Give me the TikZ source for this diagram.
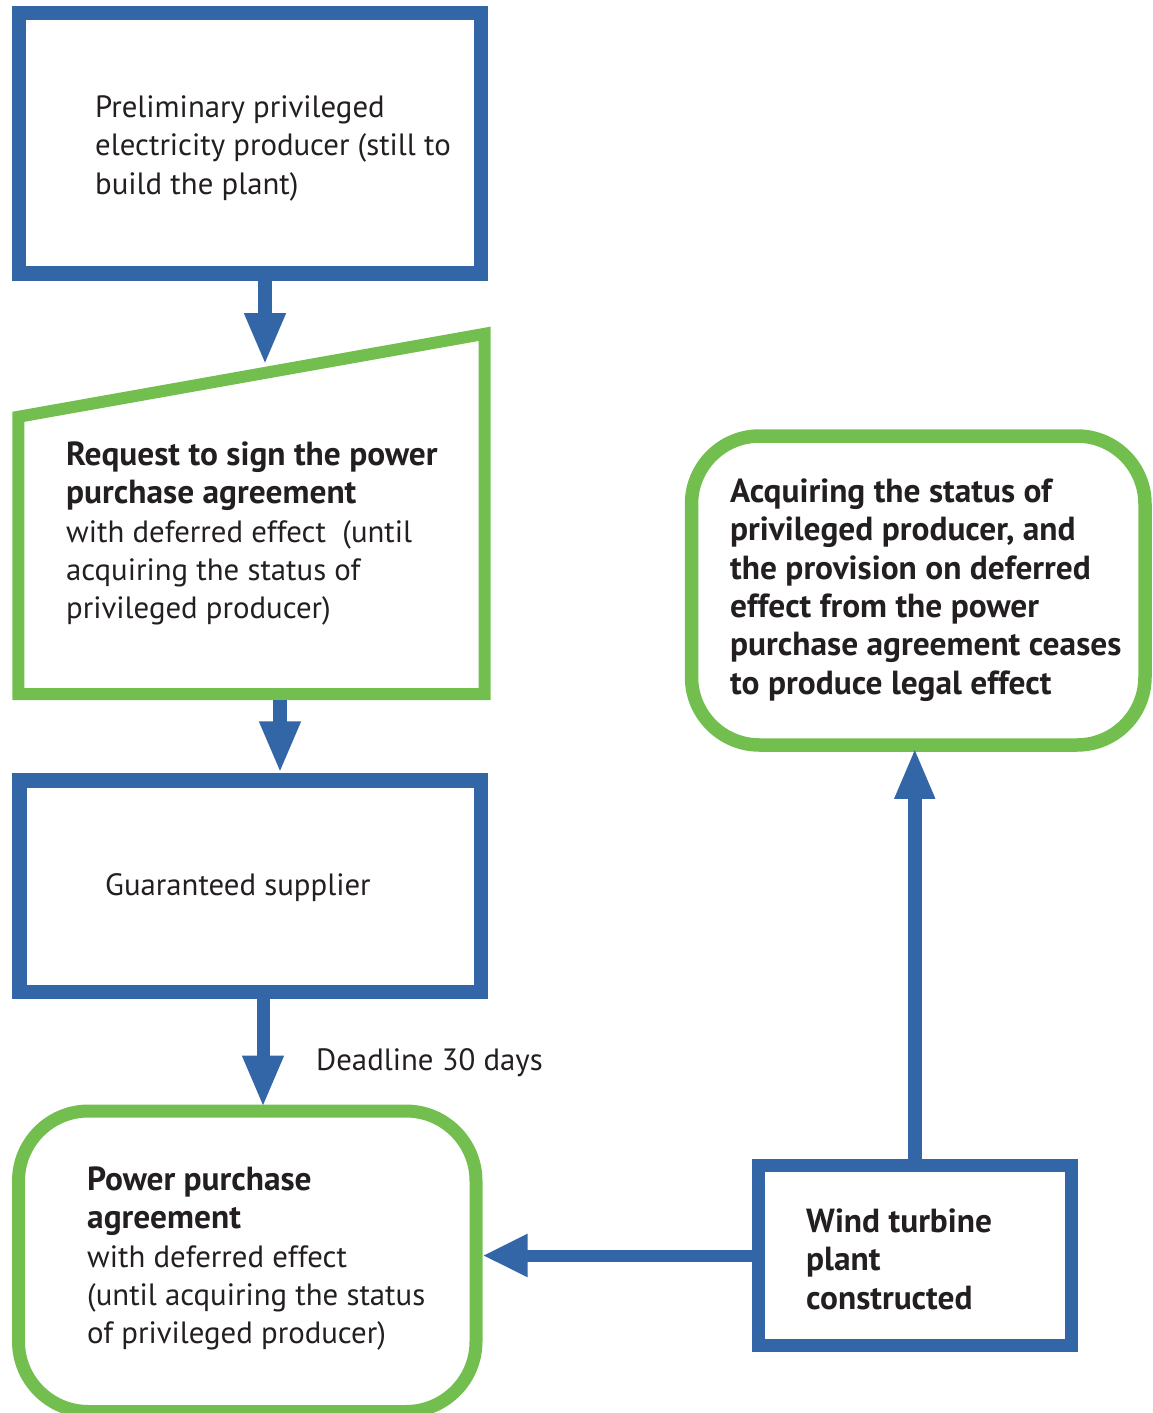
\documentclass[tikz,border=0pt]{standalone}
\usepackage{fontspec}
\setmainfont{PT Sans}
\usetikzlibrary{arrows.meta}
\definecolor{bblue}{HTML}{3366A6}
\definecolor{bgreen}{HTML}{72BF4F}
\definecolor{ink}{HTML}{231F20}
\newcommand\rgtxt{\fontsize{30.8}{38.4}\selectfont}
\newcommand\bdtxt{\fontsize{33.4}{38.4}\selectfont\bfseries}
\begin{document}
\begin{tikzpicture}[x=1pt,y=-1pt,
  bluebox/.style={draw=bblue, line width=14.5pt, rectangle, inner sep=0pt, fill=white},
  greenround/.style={draw=bgreen, line width=13pt, rectangle, rounded corners=70pt, inner sep=0pt, fill=white},
  txt/.style={anchor=north west, inner sep=0pt, align=left, text=ink, font=\rgtxt},
  btxt/.style={txt, font=\bdtxt},
  flow/.style={draw=bblue, line width=14pt, -{Triangle[length=52pt,width=38pt]}},
  flowh/.style={draw=bblue, line width=12pt, -{Triangle[length=45pt,width=40pt]}}
]
\useasboundingbox (0,0) rectangle (1152,1413);

% boxes
\node[bluebox, minimum width=462pt, minimum height=260.5pt] (b1) at (250,143.25) {};
\node[inner sep=0pt, minimum width=466pt, minimum height=360pt] (req) at (251.5,514) {};
\draw[draw=bgreen, line width=12pt, fill=white]
  (req.south west) -- ([yshift=-83pt]req.north west) -- (req.north east) -- (req.south east) -- cycle;
\node[bluebox, minimum width=461.5pt, minimum height=211.5pt] (b3) at (250.25,886.25) {};
\node[greenround, minimum width=457.5pt, minimum height=300.5pt] (b4) at (247.25,1261.25) {};
\node[bluebox, line width=13pt, minimum width=312.5pt, minimum height=180pt] (b5) at (914.75,1255.5) {};
\node[greenround, line width=13.5pt, rounded corners=68pt, minimum width=453.5pt, minimum height=309pt] (b6) at (918.25,590.5) {};

% texts
\node[txt] (t1) at (95,90.12) {\strut Preliminary privileged\\electricity producer (still to\\build the plant)};
\node[txt] (t2) at (66,438.12) {\strut{\bdtxt Request to sign the power}\\{\bdtxt purchase agreement}\\with deferred effect \ (until\\acquiring the status of\\privileged producer)};
\node[txt] (t3) at (105,868.12) {\strut Guaranteed supplier};
\node[txt] (t4) at (87,1163.12) {\strut{\bdtxt Power purchase}\\{\bdtxt agreement}\\with deferred effect\\(until acquiring the status\\of privileged producer)};
\node[btxt] (t5) at (806,1205.12) {\strut Wind turbine\\plant\\constructed};
\node[btxt] (t6) at (730,475.12) {\strut Acquiring the status of\\privileged producer, and\\the provision on deferred\\effect from the power\\purchase agreement ceases\\to produce legal effect};
\node[txt] (lab) at (316,1043.12) {\strut Deadline 30 days};

% connectors
\coordinate (reqin) at (265,365);
\coordinate (reqout) at (280,700);
\coordinate (c3) at (263,0);
\draw[flow] (b1.south -| reqin) -- (reqin);
\draw[flow] (reqout) -- (b3.north -| reqout);
\draw[flow, line width=13pt, shorten >=-3pt] (b3.south -| c3) -- (b4.north -| c3);
\draw[flowh] (b5.west) -- (b4.east |- b5.west);
\draw[flow, shorten >=-4pt, -{Triangle[length=51pt,width=37pt]}] (b5.north) -- (b6.south -| b5.north);
\end{tikzpicture}
\end{document}
